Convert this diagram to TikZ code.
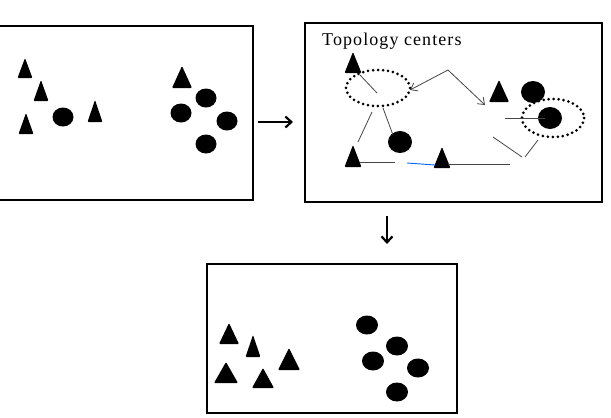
\documentclass[tikz,border=0pt]{standalone}
\usepackage{fontspec}
\setmainfont{Liberation Serif}
\usepackage{tikz}
\usetikzlibrary{arrows.meta, calc}

\tikzset{
  frame/.style={line width=2.2pt, black},
  cone/.style={fill=black, rounded corners=1pt},
  dot/.style={fill=black},
  link/.style={line width=0.8pt, gray!55!black},
  center/.style={line width=3pt, dash pattern=on 0pt off 5pt, line cap=round},
  flow/.style={line width=2.4pt, -{Straight Barb[length=6pt, width=11pt, line width=2.2pt]}}
}

\begin{document}
\begin{tikzpicture}[x=1pt, y=-1pt]
  \useasboundingbox (0,0) rectangle (611,418);

  % Frames
  \draw[frame] (0,26) -- (253,26) -- (253,200) -- (0,200);
  \draw[frame] (305,23) rectangle (602,202);
  \draw[frame] (207,264) rectangle (457,413);

  % Flow between the frames
  \coordinate (raw-out) at (258,122);
  \coordinate (topo-in) at (293,122);
  \coordinate (topo-out) at (387,216);
  \coordinate (result-in) at (387,244);
  \draw[flow] (raw-out) -- (topo-in);
  \draw[flow] (topo-out) -- (result-in);

  % Raw points (first frame)
  \foreach \x/\y/\w/\h in {25/58/15/20, 41/80/15/21, 26/113/15/21, 95/100/15/22, 182/66/20/22}
    \fill[cone] (\x-\w/2,\y+\h) -- (\x,\y) -- (\x+\w/2,\y+\h) -- cycle;
  \foreach \x/\y in {63/117, 206/98, 181/113, 227/121, 206/144}
    \fill[dot] (\x,\y) ellipse [x radius=10.5, y radius=9.5];

  % Topology centers (second frame)
  \node[anchor=base west, font=\fontsize{18}{20}\selectfont\addfontfeature{LetterSpace=6}, inner sep=0pt] (label) at (322,45) {Topology centers};

  \coordinate (c1) at (378,88);
  \coordinate (c2) at (553,118);
  \draw[center] (c1) ellipse [x radius=32, y radius=18];
  \draw[center] (c2) ellipse [x radius=31, y radius=19];

  \foreach \x/\y/\w/\h in {353/52/17/21, 499/80/20/22, 353/145/17/22, 442/147/17/21}
    \fill[cone] (\x-\w/2,\y+\h) -- (\x,\y) -- (\x+\w/2,\y+\h) -- cycle;
  \foreach \x/\y in {533/92, 550/118, 400/142}
    \fill[dot] (\x,\y) ellipse [x radius=12, y radius=11];

  % Pointers to the centers
  \coordinate (apex) at (448,70);
  \coordinate (p1) at (410,90);
  \coordinate (p2) at (485,105);
  \draw[link, -{Straight Barb[length=6pt, width=9pt]}] (apex) -- (p1);
  \draw[link, -{Straight Barb[length=6pt, width=9pt]}] (apex) -- (p2);

  % Links
  \coordinate (a1) at (360,75);   \coordinate (a2) at (377,93);
  \coordinate (b1) at (372,112);  \coordinate (b2) at (358,142);
  \coordinate (d1) at (383,108);  \coordinate (d2) at (393,135);
  \coordinate (e1) at (360,162);  \coordinate (e2) at (395,162);
  \coordinate (f1) at (448,164);  \coordinate (f2) at (510,164);
  \coordinate (g1) at (505,118);  \coordinate (g2) at (545,118);
  \coordinate (h1) at (493,137);  \coordinate (h2) at (522,157);
  \coordinate (k1) at (525,157);  \coordinate (k2) at (538,140);
  \draw[link] (a1) -- (a2);
  \draw[link] (b1) -- (b2);
  \draw[link] (d1) -- (d2);
  \draw[link] (e1) -- (e2);
  \draw[link] (f1) -- (f2);
  \draw[link] (g1) -- (g2);
  \draw[link] (h1) -- (h2);
  \draw[link] (k1) -- (k2);
  \coordinate (m1) at (407,163);  \coordinate (m2) at (435,165);
  \draw[line width=0.9pt, blue!60!cyan] (m1) -- (m2);

  % Clustered points (third frame)
  \foreach \x/\y/\w/\h in {229/323/20/21, 253/335/15/22, 289/348/22/22, 226/362/24/21, 263/368/22/20}
    \fill[cone] (\x-\w/2,\y+\h) -- (\x,\y) -- (\x+\w/2,\y+\h) -- cycle;
  \foreach \x/\y in {367/325, 397/346, 373/361, 418/368, 397/392}
    \fill[dot] (\x,\y) ellipse [x radius=11, y radius=9.5];
\end{tikzpicture}
\end{document}
